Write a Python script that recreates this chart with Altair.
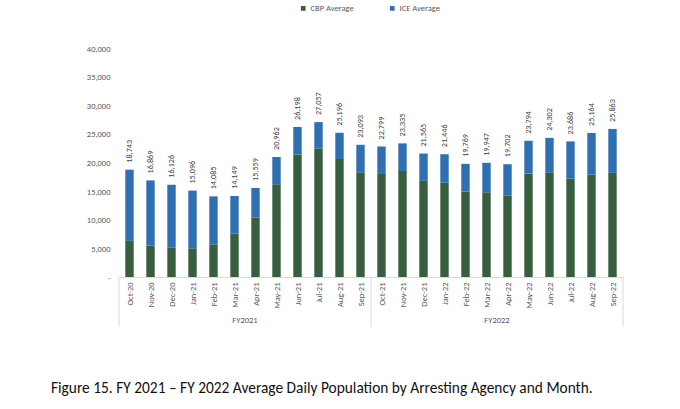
import altair as alt
import pandas as pd

months = ["Oct-20", "Nov-20", "Dec-20", "Jan-21", "Feb-21", "Mar-21", "Apr-21", "May-21",
          "Jun-21", "Jul-21", "Aug-21", "Sep-21", "Oct-21", "Nov-21", "Dec-21", "Jan-22",
          "Feb-22", "Mar-22", "Apr-22", "May-22", "Jun-22", "Jul-22", "Aug-22", "Sep-22"]
totals = [18743, 16869, 16126, 15096, 14085, 14149, 15559, 20962, 26198, 27057, 25196, 23093,
          22799, 23335, 21565, 21446, 19769, 19947, 19702, 23794, 24302, 23686, 25164, 25863]
cbp = [6300, 5500, 5100, 5000, 5700, 7600, 10400, 16200, 21400, 22400, 20600, 18200,
       18000, 18500, 16800, 16500, 14900, 14800, 14200, 18100, 18200, 17200, 17900, 18200]
fiscal_years = ["FY2021", "FY2022"]
fy_center_month = ["Apr-21", "Apr-22"]
group_edges = ["Oct-20", "Oct-21"]
y_ticks = [0, 5000, 10000, 15000, 20000, 25000, 30000, 35000, 40000]
caption = "Figure 15. FY 2021 \u2013 FY 2022 Average Daily Population by Arresting Agency and Month."

series = ["CBP Average", "ICE Average"]
colors = ["#365E3F", "#2F70B2"]

rows = []
for m, t, c in zip(months, totals, cbp):
    rows.append({"month": m, "series": "CBP Average", "value": c, "ord": 0})
    rows.append({"month": m, "series": "ICE Average", "value": t - c, "ord": 1})
df = pd.DataFrame(rows)
tot_df = pd.DataFrame({"month": months, "total": totals})
fy_df = pd.DataFrame({"fy": fiscal_years, "month": fy_center_month})
edge_df = pd.DataFrame({"month": group_edges})
end_df = pd.DataFrame({"month": [months[-1]]})
cap_df = pd.DataFrame({"t": [caption]})

FONT = "Carlito, Lato"
GRAY = "#595959"
LINE = "#D9D9D9"
H = 229

xscale = alt.Scale(domain=months, paddingInner=0, paddingOuter=0)
yscale = alt.Scale(domain=[0, 40000], nice=False)
y_axis = alt.Axis(title=None, values=y_ticks, grid=False,
                  domain=False, ticks=False, labelFontSize=8.5, labelColor=GRAY,
                  labelFont=FONT, labelPadding=9, labelOverlap=False,
                  labelExpr="datum.value == 0 ? '-   ' : format(datum.value, ',')")

bars = alt.Chart(df).mark_bar(width=alt.RelativeBandSize(0.4)).encode(
    x=alt.X("month:N", sort=months, scale=xscale,
            axis=alt.Axis(title=None, labelAngle=-90, labelFontSize=8.5, labelColor=GRAY,
                          labelFont=FONT, ticks=False, domainColor=LINE, labelPadding=5,
                          labelBaseline="middle", labelOverlap=False)),
    y=alt.Y("value:Q", stack="zero", scale=yscale, axis=y_axis),
    color=alt.Color("series:N", scale=alt.Scale(domain=series, range=colors),
                    legend=alt.Legend(title=None, orient="none", direction="horizontal",
                                      legendX=180, legendY=-44, symbolType="square",
                                      symbolSize=22, symbolStrokeWidth=0, labelFontSize=8.5,
                                      labelColor=GRAY, labelFont=FONT, columnPadding=34,
                                      labelOffset=3)),
    order=alt.Order("ord:Q"),
)

labels = alt.Chart(tot_df).mark_text(angle=270, align="left", baseline="middle", dx=7,
                                     fontSize=8.2, color="#404040", font=FONT).encode(
    x=alt.X("month:N", sort=months, scale=xscale),
    y=alt.Y("total:Q", scale=yscale, axis=y_axis),
    text=alt.Text("total:Q", format=","),
)

fy_text = alt.Chart(fy_df).mark_text(fontSize=8.5, color=GRAY, font=FONT, baseline="middle").encode(
    x=alt.X("month:N", sort=months, scale=xscale, bandPosition=0),
    y=alt.value(H + 43),
    text="fy:N",
)

edges = alt.Chart(edge_df).mark_rule(color=LINE, strokeWidth=1).encode(
    x=alt.X("month:N", sort=months, scale=xscale, bandPosition=0),
    y=alt.value(H),
    y2=alt.value(H + 50),
)
end_edge = alt.Chart(end_df).mark_rule(color=LINE, strokeWidth=1).encode(
    x=alt.X("month:N", sort=months, scale=xscale, bandPosition=1),
    y=alt.value(H),
    y2=alt.value(H + 50),
)

cap = alt.Chart(cap_df).mark_text(align="left", baseline="middle", fontSize=15.4,
                                  fontWeight="normal", color="#111111", font=FONT).encode(
    x=alt.value(-68),
    y=alt.value(H + 111),
    text="t:N",
)

chart = alt.layer(bars, labels, fy_text, edges, end_edge, cap).properties(
    width=504, height=H,
    autosize=alt.AutoSizeParams(type="none"),
    padding={"left": 119, "top": 48, "right": 57, "bottom": 132},
    background="white",
).configure_view(stroke=None)

chart.save("out.html", embed_options={"renderer": "svg", "actions": False})
